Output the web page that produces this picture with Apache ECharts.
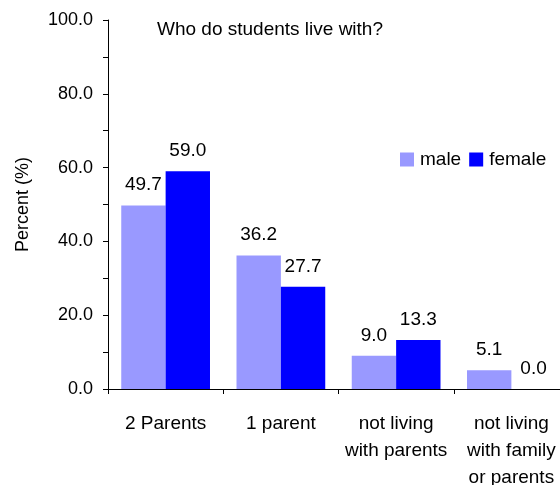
<!DOCTYPE html>
<html><head><meta charset="utf-8">
<script src="https://cdn.jsdelivr.net/npm/echarts@6/dist/echarts.min.js"></script>
<style>html,body{margin:0;padding:0;background:#fff}#c{width:560px;height:485px}</style>
</head><body><div id="c"></div>
<script>
var categories = ['2 Parents', '1 parent', 'not living\nwith parents', 'not living\nwith family\nor parents'];
var male = [49.7, 36.2, 9.0, 5.1];
var female = [59.0, 27.7, 13.3, 0.0];
var seriesNames = ['male', 'female'];
var titleText = 'Who do students live with?';
var yName = 'Percent (%)';

var FONT = '"Liberation Sans", Arial, sans-serif';
var chart = echarts.init(document.getElementById('c'));
var lbl = {show: true, position: 'top', distance: 11, color: '#000', fontFamily: FONT, fontSize: 19,
  formatter: function (p) { return p.value.toFixed(1); }};
chart.setOption({
  animation: false,
  title: {text: titleText, left: 157, top: 20, padding: 0,
    textStyle: {fontFamily: FONT, fontSize: 19, fontWeight: 'normal', color: '#000'}},
  legend: {data: seriesNames, left: 400, top: 150, padding: 0, itemWidth: 14, itemHeight: 14, itemGap: 8,
    icon: 'rect', textStyle: {fontFamily: FONT, fontSize: 19, color: '#000', padding: [0, 0, 0, 1]}},
  grid: {left: 108, top: 20, right: -9, bottom: 96, containLabel: false, outerBoundsMode: 'none'},
  xAxis: {type: 'category', data: categories,
    axisLine: {lineStyle: {color: '#000', width: 1}},
    axisTick: {show: true, length: 5, lineStyle: {color: '#000'}},
    axisLabel: {color: '#000', fontFamily: FONT, fontSize: 19, lineHeight: 27, margin: 21, interval: 0}},
  yAxis: {type: 'value', min: 0, max: 100, interval: 20, name: yName, nameLocation: 'middle', nameGap: 76,
    nameTextStyle: {fontFamily: FONT, fontSize: 18, color: '#000'},
    axisLine: {show: true, lineStyle: {color: '#000', width: 1}},
    axisTick: {show: true, length: 5, lineStyle: {color: '#000'}},
    minorTick: {show: true, splitNumber: 2, length: 5, lineStyle: {color: '#000'}},
    splitLine: {show: false},
    axisLabel: {color: '#000', fontFamily: FONT, fontSize: 18, margin: 15,
      formatter: function (v) { return v.toFixed(1); }}},
  series: [
    {name: seriesNames[0], type: 'bar', data: male, barGap: '0%', barCategoryGap: '23%',
      itemStyle: {color: '#9999FF'}, label: lbl},
    {name: seriesNames[1], type: 'bar', data: female, barGap: '0%', barCategoryGap: '23%',
      itemStyle: {color: '#0000FF'}, label: lbl}
  ]
});
</script></body></html>
